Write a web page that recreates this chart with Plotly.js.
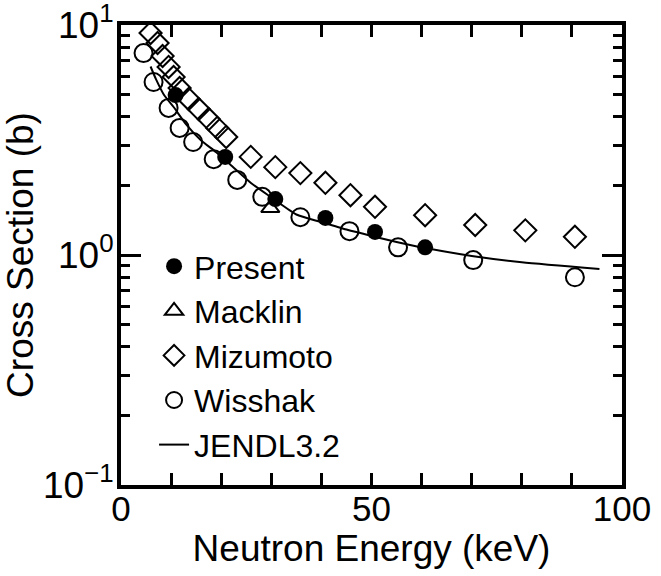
<!DOCTYPE html>
<html><head><meta charset="utf-8">
<script src="https://cdn.plot.ly/plotly-3.0.1.min.js"></script>
<style>html,body{margin:0;padding:0;background:#fff}#chart{width:661px;height:576px}</style>
</head><body><div id="chart"></div>
<script>
// Series values
const presentE = [10.9, 20.8, 30.8, 40.8, 50.7, 60.7];
const presentXS = [4.96, 2.67, 1.75, 1.45, 1.26, 1.08];
const macklinE = [29.8];
const macklinXS = [1.60];
const mizumotoE = [5.9, 7.3, 8.3, 9.5, 10.5, 11.7, 13.5, 15.5, 17.5, 19.2, 21.0, 25.9, 30.8, 35.8, 40.8, 45.8, 50.7, 60.7, 70.7, 80.7, 90.6];
const mizumotoXS = [9.23, 8.35, 7.33, 6.57, 5.94, 5.32, 4.77, 4.31, 3.90, 3.57, 3.26, 2.67, 2.41, 2.27, 2.06, 1.82, 1.62, 1.49, 1.35, 1.28, 1.20];
const wisshakE = [4.5, 6.5, 9.5, 11.7, 14.4, 18.5, 23.2, 28.2, 35.8, 45.6, 55.3, 70.3, 90.6];
const wisshakXS = [7.55, 5.65, 4.36, 3.57, 3.10, 2.61, 2.12, 1.79, 1.46, 1.27, 1.08, 0.95, 0.80];
const jendlE = [5.9, 7.0, 8.5, 10.5, 13.0, 16.0, 19.0, 22.0, 26.0, 30.0, 35.0, 40.0, 45.0, 50.0, 55.0, 60.0, 70.0, 80.0, 95.5];
const jendlXS = [6.6, 5.8, 5.0, 4.4, 3.7, 3.15, 2.8, 2.45, 2.05, 1.78, 1.50, 1.39, 1.29, 1.21, 1.14, 1.08, 0.99, 0.93, 0.87];

// Tick labels
const xTickVals = [0, 50, 100];
const xTickText = ['0', '50', '100'];
const yTickVals = [0.1, 1, 10];
const yTickText = ['10<sup>\u22121</sup>', '10<sup>0</sup>', '10<sup>1</sup>'];

const FONT = 'Liberation Sans, Arial, Helvetica, sans-serif';

const traces = [
  {x: presentE, y: presentXS, name: 'Present', type: 'scatter', mode: 'markers',
   marker: {symbol: 'circle', size: 16, color: '#000'}},
  {x: macklinE, y: macklinXS, name: 'Macklin', type: 'scatter', mode: 'markers',
   marker: {symbol: 'triangle-up-open', size: 16, color: '#000', line: {width: 2, color: '#000'}}},
  {x: mizumotoE, y: mizumotoXS, name: 'Mizumoto', type: 'scatter', mode: 'markers',
   marker: {symbol: 'diamond-open', size: 17, color: '#000', line: {width: 2, color: '#000'}}},
  {x: wisshakE, y: wisshakXS, name: 'Wisshak', type: 'scatter', mode: 'markers',
   marker: {symbol: 'circle-open', size: 18, color: '#000', line: {width: 2, color: '#000'}}},
  {x: jendlE, y: jendlXS, name: 'JENDL3.2', type: 'scatter', mode: 'lines',
   line: {color: '#000', width: 2, shape: 'spline', smoothing: 0.6}}
];

const layout = {
  width: 661, height: 576,
  margin: {l: 121, r: 39, t: 25, b: 91},
  paper_bgcolor: '#fff', plot_bgcolor: '#fff',
  font: {family: FONT, color: '#000'},
  showlegend: true,
  legend: {
    x: 0.066, y: 0.535, xanchor: 'left', yanchor: 'top',
    bgcolor: 'rgba(0,0,0,0)', borderwidth: 0,
    font: {family: FONT, size: 32, color: '#000'},
    traceorder: 'normal'
  },
  xaxis: {
    range: [0, 100], tickmode: 'array', tickvals: xTickVals, ticktext: xTickText,
    ticks: 'inside', ticklen: 12, tickwidth: 3, tickcolor: '#000',
    ticklabelstandoff: -10, ticklabeloverflow: 'allow',
    minor: {dtick: 10, ticks: 'inside', ticklen: 12, tickwidth: 3, tickcolor: '#000', showgrid: false},
    showline: true, linewidth: 4, linecolor: '#000', mirror: 'allticks',
    showgrid: false, zeroline: false,
    tickfont: {family: FONT, size: 35, color: '#000'},
    title: {text: 'Neutron Energy (keV)', font: {family: FONT, size: 37, color: '#000'}, standoff: 0}
  },
  yaxis: {
    type: 'log', range: [-1, 1], tickmode: 'array', tickvals: yTickVals, ticktext: yTickText,
    ticks: 'inside', ticklen: 20, tickwidth: 3, tickcolor: '#000',
    ticklabelstandoff: -4, ticklabeloverflow: 'allow',
    minor: {dtick: 'D1', ticks: 'inside', ticklen: 9, tickwidth: 3, tickcolor: '#000', showgrid: false},
    showline: true, linewidth: 4, linecolor: '#000', mirror: 'allticks',
    showgrid: false, zeroline: false,
    tickfont: {family: FONT, size: 37, color: '#000'},
    title: {text: 'Cross Section (b)', font: {family: FONT, size: 37, color: '#000'}, standoff: 0}
  }
};

Plotly.newPlot('chart', traces, layout, {displayModeBar: false, staticPlot: true});
</script>
</body></html>
